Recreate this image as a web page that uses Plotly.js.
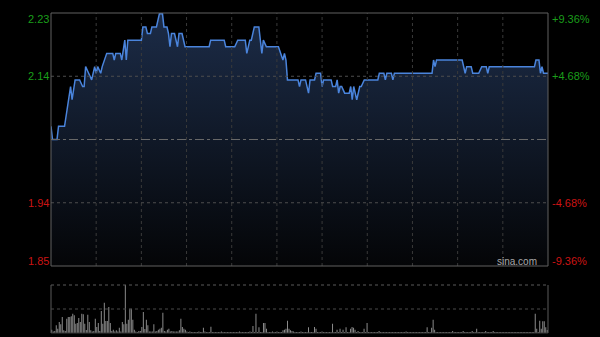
<!DOCTYPE html>
<html>
<head>
<meta charset="utf-8">
<script src="https://cdn.plot.ly/plotly-3.0.1.min.js"></script>
<style>
html,body{margin:0;padding:0;background:#000;}
#chart{width:600px;height:337px;}
</style>
</head>
<body>
<div id="chart"></div>
<script>
// ---- data ----
const prevClose = 2.04;
const levelPcts = [9.36, 4.68, -4.68, -9.36];
const leftLabels = ['2.23', '2.14', '1.94', '1.85'];
const rightLabels = ['+9.36%', '+4.68%', '-4.68%', '-9.36%'];
const watermark = 'sina.com';

// minutes since 09:30 (trading minutes, 330 per session) and price at that minute
const priceMin = [0,1,4,5,9,13,14,16,19,21,22,23,25,27,29,30,31,33,34,37,41,42,43,46,47,49,50,51,60,61,63,64,66,67,70,72,74,75,77,78,79,80,82,84,85,87,89,105,106,115,116,122,124,129,130,132,133,135,138,139,140,141,143,151,154,155,156,157,164,165,166,169,171,172,175,176,179,180,181,186,187,189,190,191,192,193,195,198,199,200,201,202,203,205,206,208,217,218,221,222,223,226,227,228,253,254,255,256,273,274,275,276,279,280,284,286,289,290,291,321,322,324,325,326,327,330];
const price = [2.06,2.04,2.04,2.06,2.06,2.12,2.10,2.13,2.13,2.12,2.12,2.15,2.14,2.13,2.15,2.14,2.15,2.14,2.15,2.17,2.17,2.16,2.17,2.17,2.16,2.19,2.16,2.19,2.19,2.21,2.21,2.20,2.20,2.21,2.21,2.23,2.23,2.21,2.21,2.20,2.18,2.20,2.20,2.18,2.20,2.20,2.18,2.18,2.19,2.19,2.18,2.18,2.19,2.19,2.17,2.19,2.19,2.21,2.21,2.19,2.17,2.19,2.18,2.18,2.16,2.17,2.16,2.13,2.13,2.12,2.13,2.13,2.11,2.13,2.13,2.14,2.14,2.12,2.13,2.13,2.12,2.12,2.13,2.11,2.12,2.12,2.11,2.11,2.12,2.10,2.12,2.11,2.10,2.12,2.12,2.13,2.13,2.14,2.14,2.13,2.14,2.14,2.13,2.14,2.14,2.16,2.15,2.16,2.16,2.15,2.14,2.15,2.15,2.14,2.14,2.15,2.15,2.14,2.15,2.15,2.16,2.16,2.14,2.15,2.14,2.14];

// volume per minute (thousand shares), minute 0..330
const volume = [
33,15,20,77,43,110,87,160,27,20,
143,160,160,167,193,177,93,100,150,110,
193,187,93,30,183,110,27,15,20,143,
60,100,20,220,93,303,120,120,260,100,
20,33,15,27,15,53,15,110,87,480,
93,133,243,243,133,33,15,10,20,20,
60,210,40,133,77,15,15,15,87,15,
20,33,43,53,203,20,15,33,43,15,
20,15,15,15,15,27,143,60,43,33,
15,10,15,10,10,10,10,10,15,10,
10,53,15,10,10,10,63,10,10,10,
10,10,10,15,10,10,10,10,10,10,
10,10,10,10,10,15,10,10,10,10,
10,10,15,10,70,10,193,10,57,10,
10,100,100,43,10,10,10,15,10,10,
15,10,10,10,27,33,43,123,43,27,
20,15,10,10,10,10,15,10,10,10,
10,57,10,10,10,60,43,10,10,10,
15,10,10,10,10,10,10,93,10,10,
33,10,43,10,33,10,57,10,10,43,
60,53,33,10,20,10,10,10,43,10,
100,10,10,10,10,10,10,10,20,10,
10,10,10,10,10,10,10,10,10,10,
10,10,10,10,10,10,15,10,10,10,
10,10,10,10,10,10,10,10,10,10,
57,10,10,53,133,33,10,10,10,10,
10,10,10,10,10,10,10,20,10,10,
10,10,10,10,20,10,10,10,10,10,
20,10,10,43,10,10,10,10,10,20,
10,10,10,10,20,10,10,10,10,10,
10,10,10,10,10,10,10,10,10,10,
10,10,10,10,10,10,10,10,10,10,
10,10,193,43,10,123,43,117,117,57,
30];
const volMinutes = volume.map((v, i) => i);
const gridMinutes = [30,60,90,120,150,180,210,240,270,300];
const sessionMinutes = 330;

// ---- drawing ----
const levels = levelPcts.map(p => prevClose * (1 + p / 100));
const yHi = levels[0], yLo = levels[3];
const green = '#1a9e1a', red = '#cc1414';
const fontFam = '"Liberation Sans", Arial, sans-serif';

const traces = [
  {
    x: priceMin, y: price, type: 'scatter', mode: 'lines',
    line: {color: '#4a84dc', width: 1.5},
    fill: 'tozeroy',
    fillgradient: {type: 'vertical', start: yLo, stop: yHi,
      colorscale: [[0, '#040507'], [1, '#1c2c48']]},
    xaxis: 'x', yaxis: 'y', hoverinfo: 'skip'
  },
  {
    x: volMinutes, y: volume, type: 'bar',
    marker: {color: '#8e8e8e', line: {width: 0}},
    xaxis: 'x2', yaxis: 'y2', hoverinfo: 'skip'
  }
];

const shapes = [];
gridMinutes.forEach(m => shapes.push({type: 'line', xref: 'x', yref: 'y domain',
  x0: m, x1: m, y0: 0, y1: 1, line: {color: '#3a3a3a', width: 1, dash: 'dot'}}));
[levels[1], levels[2]].forEach(v => shapes.push({type: 'line', xref: 'x domain', yref: 'y',
  x0: 0, x1: 1, y0: v, y1: v, line: {color: '#4e4e4e', width: 1, dash: 'dot'}}));
shapes.push({type: 'line', xref: 'x domain', yref: 'y', x0: 0, x1: 1, y0: prevClose, y1: prevClose,
  line: {color: '#686868', width: 1, dash: 'dashdot'}});
shapes.push({type: 'rect', xref: 'x domain', yref: 'y domain', x0: 0, x1: 1, y0: 0, y1: 1,
  line: {color: '#606060', width: 1}});
// volume frame
shapes.push({type: 'line', xref: 'x2 domain', yref: 'y2 domain', x0: 0, x1: 0, y0: 0, y1: 1, line: {color: '#5a5a5a', width: 1}});
shapes.push({type: 'line', xref: 'x2 domain', yref: 'y2 domain', x0: 1, x1: 1, y0: 0, y1: 1, line: {color: '#5a5a5a', width: 1}});
shapes.push({type: 'line', xref: 'x2 domain', yref: 'y2 domain', x0: 0, x1: 1, y0: 1, y1: 1, line: {color: '#5a5a5a', width: 1, dash: 'dot'}});
shapes.push({type: 'line', xref: 'x2 domain', yref: 'y2 domain', x0: 0, x1: 1, y0: 0.5, y1: 0.5, line: {color: '#4a4a4a', width: 1, dash: 'dot'}});
shapes.push({type: 'line', xref: 'x2 domain', yref: 'y2 domain', x0: 0, x1: 1, y0: 0, y1: 0, line: {color: '#3a3a3a', width: 1}});

const annotations = [];
const edgeShift = [-6, 0, 0, 5];
levels.forEach((v, i) => {
  const col = levelPcts[i] > 0 ? green : red;
  annotations.push({xref: 'paper', yref: 'y', x: 0, y: v, xanchor: 'right', yanchor: 'middle',
    xshift: 0, yshift: edgeShift[i], showarrow: false, text: leftLabels[i],
    font: {family: fontFam, size: 11, color: col}});
  annotations.push({xref: 'paper', yref: 'y', x: 1, y: v, xanchor: 'left', yanchor: 'middle',
    xshift: 2, yshift: edgeShift[i], showarrow: false, text: rightLabels[i],
    font: {family: fontFam, size: 11, color: col}});
});
annotations.push({xref: 'paper', yref: 'y', x: 1, y: yLo, xanchor: 'right', yanchor: 'middle',
  xshift: -9, yshift: 5, showarrow: false, text: watermark,
  font: {family: fontFam, size: 10, color: '#a8a8a8'}});

const layout = {
  width: 600, height: 337,
  margin: {l: 51, r: 52, t: 13, b: 4, pad: 0},
  paper_bgcolor: '#000', plot_bgcolor: '#000',
  showlegend: false, bargap: 0.35,
  xaxis: {range: [0, sessionMinutes], showgrid: false, zeroline: false, showticklabels: false,
    ticks: '', showline: false, fixedrange: true},
  yaxis: {domain: [67 / 320, 1], range: [yLo, yHi], showgrid: false, zeroline: false,
    showticklabels: false, ticks: '', fixedrange: true},
  xaxis2: {anchor: 'y2', range: [-0.5, sessionMinutes + 0.5], showgrid: false, zeroline: false,
    showticklabels: false, ticks: '', fixedrange: true},
  yaxis2: {anchor: 'x2', domain: [0, 48 / 320], range: [0, Math.max(...volume)], showgrid: false,
    zeroline: false, showticklabels: false, ticks: '', fixedrange: true},
  shapes: shapes,
  annotations: annotations
};

Plotly.newPlot('chart', traces, layout, {staticPlot: true, displayModeBar: false});
</script>
</body>
</html>
